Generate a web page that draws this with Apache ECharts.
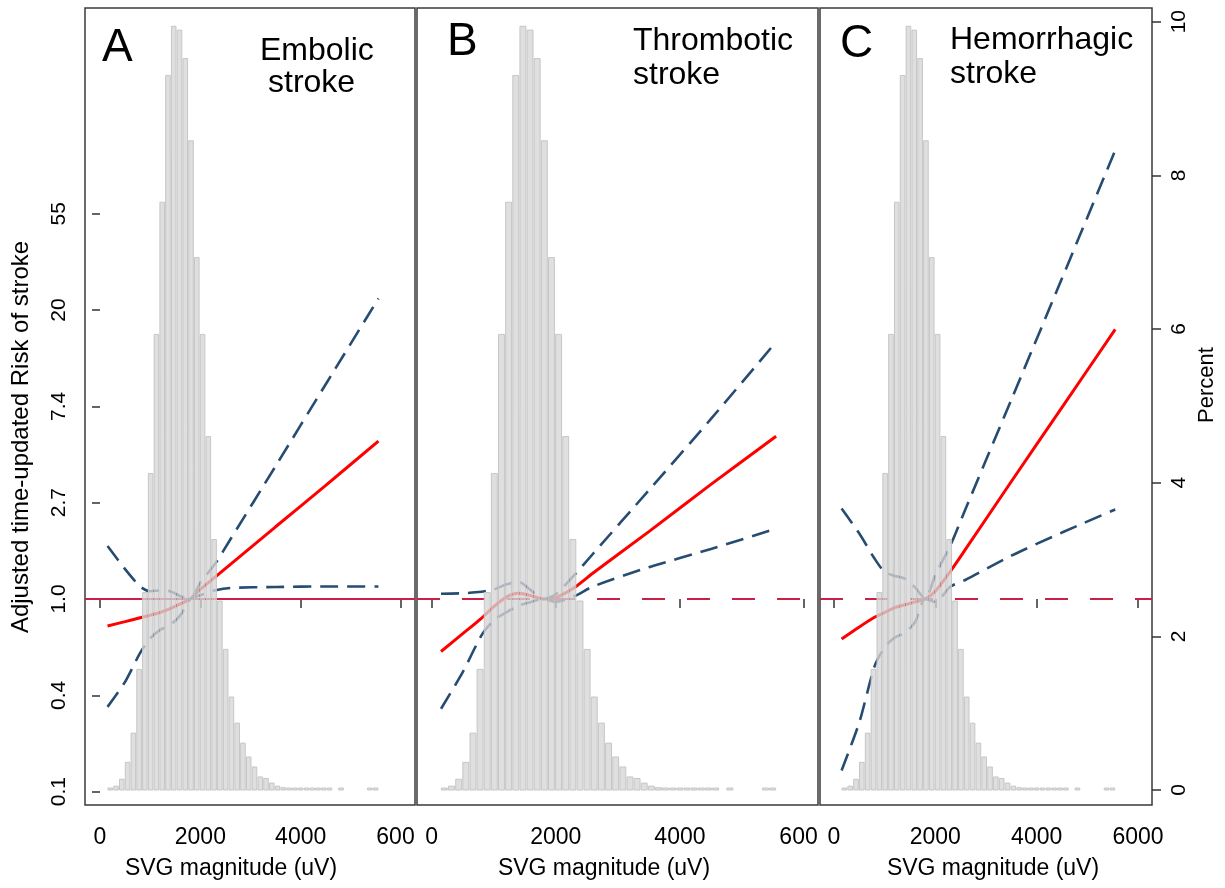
<!DOCTYPE html>
<html>
<head>
<meta charset="utf-8">
<title>SVG magnitude and risk of stroke</title>
<script src="https://cdn.jsdelivr.net/npm/echarts@6.0.0/dist/echarts.min.js"></script>
<style>
  html, body { margin: 0; padding: 0; background: #fff; }
  #chart-container { width: 1225px; height: 888px; }
</style>
</head>
<body>
<div id="chart-container"></div>
<script>
// histogram of SVG magnitude (same sample in all three panels), percent per bin
const binWidth = 115;
const binLeft = [147, 262, 377, 492, 607, 722, 837, 952, 1067, 1182, 1297, 1412, 1527, 1642, 1757, 1872,
  1987, 2102, 2217, 2332, 2447, 2562, 2677, 2792, 2907, 3022, 3137, 3252, 3367, 3482, 3597, 3712,
  3827, 3942, 4057, 4172, 4287, 4402, 4517, 4632, 4747, 4862, 4977, 5092, 5207, 5322, 5437];
const binPercent = [0.02, 0.05, 0.14, 0.36, 0.74, 1.57, 2.57, 4.12, 5.93, 7.65, 9.30, 9.94, 9.89, 9.52, 8.45, 6.93,
  5.93, 4.60, 3.26, 2.46, 1.83, 1.21, 0.87, 0.61, 0.43, 0.30, 0.17, 0.15, 0.09, 0.05, 0.03, 0.02,
  0.02, 0.01, 0.01, 0.01, 0.01, 0.01, 0.01, 0, 0.01, 0, 0, 0, 0, 0.01, 0.01];

// spline fits, log hazard ratio at these SVG values
const svgPoints = [150, 500, 800, 1000, 1200, 1400, 1600, 1800, 2000, 2300, 2600, 3500, 4500, 5550];

const embolicFit   = [-0.28, -0.235, -0.195, -0.168, -0.14, -0.10, -0.05, 0.0, 0.10, 0.23, 0.36, 0.75, 1.18, 1.64];
const embolicUpper = [0.55, 0.31, 0.13, 0.08, 0.09, 0.08, 0.03, 0.0, 0.17, 0.37, 0.62, 1.38, 2.23, 3.12];
const embolicLower = [-1.12, -0.86, -0.56, -0.41, -0.32, -0.27, -0.17, 0.0, 0.04, 0.09, 0.115, 0.125, 0.13, 0.13];

const thromboticFit   = [-0.545, -0.36, -0.20, -0.08, 0.02, 0.06, 0.035, 0.0, 0.015, 0.12, 0.27, 0.70, 1.19, 1.69];
const thromboticUpper = [0.055, 0.06, 0.075, 0.10, 0.15, 0.18, 0.09, 0.0, 0.05, 0.25, 0.47, 1.13, 1.87, 2.67];
const thromboticLower = [-1.14, -0.76, -0.38, -0.22, -0.14, -0.07, -0.03, 0.0, -0.03, 0.03, 0.13, 0.33, 0.52, 0.73];

const hemorrhagicFit   = [-0.415, -0.29, -0.19, -0.14, -0.09, -0.06, -0.03, 0.0, 0.08, 0.29, 0.52, 1.22, 1.99, 2.80];
const hemorrhagicUpper = [0.94, 0.68, 0.42, 0.28, 0.24, 0.21, 0.12, 0.0, 0.25, 0.56, 0.94, 2.07, 3.33, 4.66];
const hemorrhagicLower = [-1.78, -1.28, -0.70, -0.50, -0.40, -0.35, -0.24, 0.0, -0.03, 0.13, 0.20, 0.45, 0.69, 0.93];

// ticks
const xTicks = [0, 2000, 4000, 6000];
const xTickLabelsCut = ['0', '2000', '4000', '600'];
const xTickLabelsFull = ['0', '2000', '4000', '6000'];
const riskTicks = [-2, -1, 0, 1, 2, 3, 4];
const riskTickLabels = ['0.1', '0.4', '1.0', '2.7', '7.4', '20', '55'];
const percentTicks = [0, 2, 4, 6, 8, 10];

const panelLetters = ['A', 'B', 'C'];
const panelTitles = [['Embolic', 'stroke'], ['Thrombotic', 'stroke'], ['Hemorrhagic', 'stroke']];
const xTitle = 'SVG magnitude (uV)';
const yTitle = 'Adjusted time-updated Risk of stroke';
const y2Title = 'Percent';

// layout of the three boxes (px) and the axis ranges that fill them
const FONT = '"Liberation Sans", Arial, sans-serif';
const TOP = 8, HEIGHT = 797;
const panels = [
  { left: 85, width: 330, xMin: -299, xMax: 6279, fit: embolicFit, up: embolicUpper, lo: embolicLower,
    xLabels: xTickLabelsCut, refType: 'solid', letter: [102, 48], title: [[260, 51], [268, 83.5]], xName: 231 },
  { left: 417, width: 401, xMin: -237, xMax: 6225, fit: thromboticFit, up: thromboticUpper, lo: thromboticLower,
    xLabels: xTickLabelsCut, refType: [23, 22], letter: [447, 42], title: [[633, 41.5], [633, 75]], xName: 604 },
  { left: 820, width: 332, xMin: -276, xMax: 6276, fit: hemorrhagicFit, up: hemorrhagicUpper, lo: hemorrhagicLower,
    xLabels: xTickLabelsFull, refType: [23, 22], letter: [840, 44], title: [[950, 40], [950, 74]], xName: 993 }
];
const riskMin = -2.139, riskMax = 6.137;
const pctMin = -0.195, pctMax = 10.178;

var dom = document.getElementById('chart-container');
var myChart = echarts.init(dom, null, { renderer: 'canvas' });

const grids = [], xAxes = [], yAxes = [], series = [];
const graphics = [];

panels.forEach(function (p, i) {
  grids.push({
    left: p.left, top: TOP, width: p.width, height: HEIGHT,
    show: true, borderColor: '#3a3a3a', borderWidth: 1.5, backgroundColor: 'transparent',
    containLabel: false, outerBoundsMode: 'none'
  });

  xAxes.push({
    gridIndex: i, type: 'value', min: p.xMin, max: p.xMax,
    axisLine: { show: false }, splitLine: { show: false },
    axisTick: { show: true, length: 9, customValues: xTicks, lineStyle: { color: '#333', width: 1.5 } },
    axisLabel: {
      customValues: xTicks, margin: 21, color: '#000', fontSize: 23, fontFamily: FONT,
      formatter: function (v) {
        const s = p.xLabels[xTicks.indexOf(v)];
        return s === '600' ? '{cut|600}' : s;
      },
      rich: { cut: { fontSize: 23, fontFamily: FONT, color: '#000', padding: [0, 11, 0, 0] } }
    }
  });

  yAxes.push({
    gridIndex: i, type: 'value', position: 'left', min: riskMin, max: riskMax, show: i === 0,
    axisLine: { show: false }, splitLine: { show: false },
    axisTick: { show: true, length: 8, customValues: riskTicks, lineStyle: { color: '#333', width: 1.5 } },
    axisLabel: {
      customValues: riskTicks, rotate: 90, margin: 15, color: '#000', fontSize: 21, fontFamily: FONT,
      formatter: function (v) { return riskTickLabels[riskTicks.indexOf(v)]; }
    }
  });
  yAxes.push({
    gridIndex: i, type: 'value', position: 'right', min: pctMin, max: pctMax, show: i === 2,
    axisLine: { show: false }, splitLine: { show: false },
    axisTick: { show: true, length: 9, customValues: percentTicks, lineStyle: { color: '#333', width: 1.5 } },
    axisLabel: {
      customValues: percentTicks, rotate: 90, margin: 17, color: '#000', fontSize: 21, fontFamily: FONT
    }
  });

  const pairs = function (arr) { return svgPoints.map(function (x, k) { return [x, arr[k]]; }); };

  series.push({
    type: 'line', xAxisIndex: i, yAxisIndex: 2 * i, z: 2, smooth: 0.25, showSymbol: false, silent: true,
    data: pairs(p.fit), lineStyle: { color: '#ff0000', width: 3 },
    markLine: {
      silent: true, z: 2, symbol: ['none', 'none'], label: { show: false },
      lineStyle: { color: '#cc1f46', width: 1.8, type: p.refType },
      data: [{ yAxis: 0 }]
    }
  });
  [p.up, p.lo].forEach(function (band) {
    series.push({
      type: 'line', xAxisIndex: i, yAxisIndex: 2 * i, z: 2, smooth: 0.25, showSymbol: false, silent: true,
      data: pairs(band), lineStyle: { color: '#274c72', width: 2.6, type: [18, 9] }
    });
  });

  series.push({
    type: 'custom', xAxisIndex: i, yAxisIndex: 2 * i + 1, z: 3, silent: true,
    data: binLeft.map(function (x, k) { return [x, x + binWidth, binPercent[k]]; }),
    encode: { x: [0, 1], y: 2 },
    renderItem: function (params, api) {
      const h = api.value(2);
      if (!h) return null;
      const a = api.coord([api.value(0), 0]);
      const b = api.coord([api.value(1), h]);
      const height = Math.max(a[1] - b[1], 2);
      return {
        type: 'rect',
        shape: { x: a[0] + 0.6, y: a[1] - height, width: b[0] - a[0] - 1.2, height: height },
        style: { fill: 'rgba(214,214,214,0.78)', stroke: 'rgba(196,196,196,0.95)', lineWidth: 1 }
      };
    }
  });

  graphics.push({
    type: 'text', x: p.letter[0], y: p.letter[1],
    style: { text: panelLetters[i], font: '46px ' + FONT, fill: '#000', textAlign: 'left', textVerticalAlign: 'middle' }
  });
  panelTitles[i].forEach(function (line, k) {
    graphics.push({
      type: 'text', x: p.title[k][0], y: p.title[k][1],
      style: { text: line, font: '32px ' + FONT, fill: '#000', textAlign: 'left', textVerticalAlign: 'middle' }
    });
  });
  graphics.push({
    type: 'text', x: p.xName, y: 869,
    style: { text: xTitle, font: '23px ' + FONT, fill: '#000', textAlign: 'center', textVerticalAlign: 'middle' }
  });
});

graphics.push({
  type: 'text', x: 21, y: 437, rotation: Math.PI / 2,
  style: { text: yTitle, font: '24px ' + FONT, fill: '#000', textAlign: 'center', textVerticalAlign: 'middle' }
});
graphics.push({
  type: 'text', x: 1207, y: 385, rotation: Math.PI / 2,
  style: { text: y2Title, font: '22px ' + FONT, fill: '#000', textAlign: 'center', textVerticalAlign: 'middle' }
});

var option = {
  animation: false,
  backgroundColor: '#fff',
  grid: grids,
  xAxis: xAxes,
  yAxis: yAxes,
  series: series,
  graphic: graphics
};

if (option && typeof option === 'object') {
  myChart.setOption(option);
}

window.addEventListener('resize', myChart.resize);
</script>
</body>
</html>
